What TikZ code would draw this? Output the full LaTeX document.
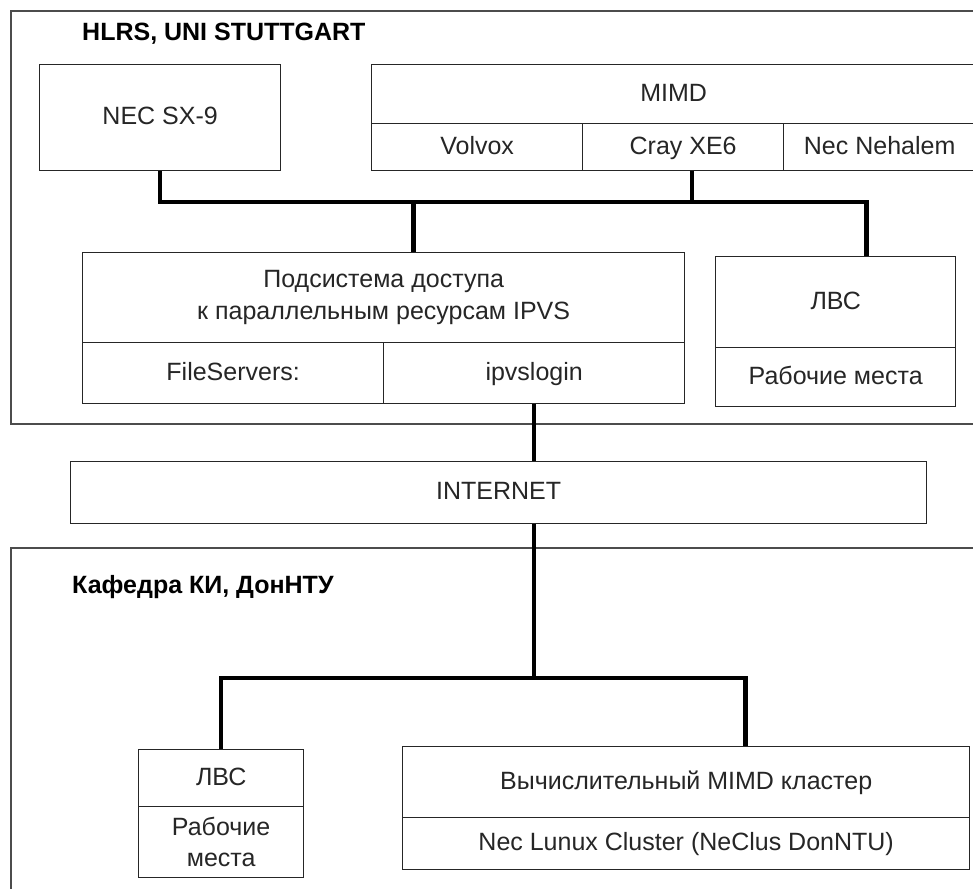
\documentclass[tikz,border=0pt]{standalone}
\usepackage{fontspec}
\setmainfont{Liberation Sans}
\begin{document}
\begin{tikzpicture}[x=1pt,y=-1pt,
  cell/.style={draw=black!85, line width=1.3pt, anchor=north west, inner sep=0pt,
    align=center, font=\fontsize{25}{32}\selectfont, text=black!85},
  cellone/.style={cell, text height=18pt, text depth=4pt},
  frame/.style={draw=black!70, line width=2pt, anchor=north west, inner sep=0pt},
  ttl/.style={anchor=base west, inner sep=0pt, font=\bfseries\fontsize{25}{30}\selectfont},
  conn/.style={line width=4.5pt, black, line join=miter}]
\useasboundingbox (0,0) rectangle (973,888);
\clip (0,0) rectangle (973,888);
\fill[white] (0,0) rectangle (973,888);

% frames
\node[frame, minimum width=980pt, minimum height=413pt] (ftop) at (10,10) {};
\node[frame, minimum width=980pt, minimum height=360pt] (fbot) at (10,547) {};
\node[ttl] (t1) at (82,41) {HLRS, UNI STUTTGART};
\node[ttl] (t2) at (72,593) {Кафедра КИ, ДонНТУ};

% top part
\node[cellone, minimum width=241pt, minimum height=106pt] (nec) at (39,64) {NEC SX-9};
\node[cellone, minimum width=604pt, minimum height=59pt] (mimd) at (371,64) {MIMD};
\node[cellone, minimum width=211pt, minimum height=47pt] (volvox) at (371,123) {Volvox};
\node[cellone, minimum width=201pt, minimum height=47pt] (cray) at (582,123) {Cray XE6};
\node[cellone, minimum width=192pt, minimum height=47pt] (neh) at (783,123) {Nec Nehalem};

\node[cell, minimum width=602pt, minimum height=90pt] (pod) at (82,252)
  {Подсистема доступа\\к параллельным ресурсам IPVS};
\node[cellone, minimum width=301pt, minimum height=61pt] (fs) at (82,342) {FileServers:};
\node[cellone, minimum width=301pt, minimum height=61pt] (ipvs) at (383,342) {ipvslogin};

\node[cellone, minimum width=240pt, minimum height=91pt] (lvs1) at (715,256) {ЛВС};
\node[cellone, minimum width=240pt, minimum height=59pt] (rm1) at (715,347) {Рабочие места};

% internet
\node[cellone, minimum width=856pt, minimum height=62pt] (inet) at (70,461) {INTERNET};

% bottom part
\node[cellone, minimum width=165pt, minimum height=57pt] (lvs2) at (138,749) {ЛВС};
\node[cell, minimum width=165pt, minimum height=71pt, font=\fontsize{25}{31}\selectfont] (rm2) at (138,806) {Рабочие\\места};
\node[cellone, minimum width=567pt, minimum height=71pt] (vych) at (402,746) {Вычислительный MIMD кластер};
\node[cellone, minimum width=567pt, minimum height=52pt] (ncl) at (402,817) {Nec Lunux Cluster (NeClus DonNTU)};

% connectors
\coordinate (bus1) at (0,202);
\coordinate (bus2) at (0,678);
\coordinate (lvsin) at ([xshift=31pt]lvs1.north);
\coordinate (crayout) at ([xshift=9pt]cray.south);
\coordinate (podin) at ([xshift=30pt]pod.north);
\coordinate (vychin) at ([xshift=59.5pt]vych.north);

\draw[conn] (nec.south) |- (lvsin |- bus1) -- (lvsin);
\draw[conn] (crayout) -- (crayout |- bus1);
\draw[conn] (podin |- bus1) -- (podin);
\draw[conn] (ipvs.south) -- (ipvs.south |- inet.north);
\draw[conn] (inet.south -| ipvs.south) -- (ipvs.south |- bus2);
\draw[conn] (lvs2.north) |- (vychin |- bus2) -- (vychin);
\end{tikzpicture}
\end{document}
